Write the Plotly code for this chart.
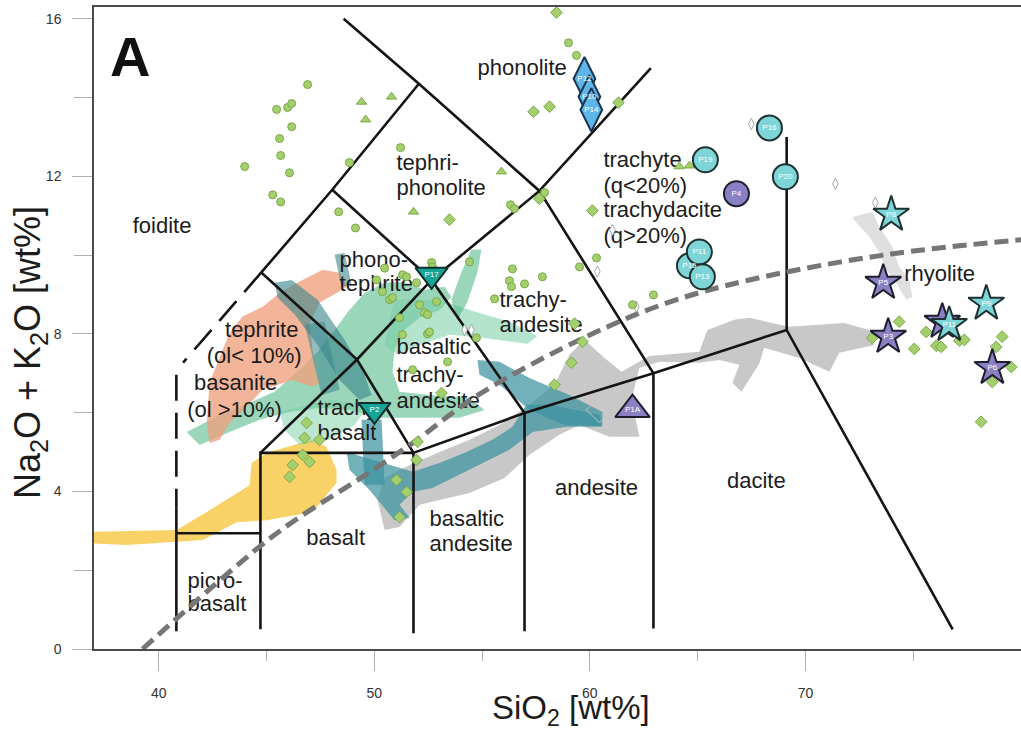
import plotly.graph_objects as go

# ---------------- axes ----------------
x_ticks = [40, 50, 60, 70]
x_minor = [45, 55, 65, 75]
y_ticks = [0, 4, 8, 12, 16]
y_minor = [2, 6, 10, 14]

# ---------------- TAS field boundaries (SiO2 wt%, Na2O+K2O wt%) ----------------
picro_x, picro_y = [40.82, 40.82], [0.45, 3.6]
picro_top_x, picro_top_y = [40.82, 44.72], [2.94, 2.94]
basalt_x, basalt_y = [44.72, 44.72, 51.82], [0.5, 4.98, 4.98]
subalk_x = [51.82, 51.82, 56.97, 62.95, 69.13, 76.83]
subalk_y = [0.4, 4.98, 5.99, 7.0, 8.1, 0.5]
andesite_x, andesite_y = [56.97, 56.97], [0.45, 5.99]
phonolite_x = [62.95, 62.95, 57.66, 52.07, 48.58]
phonolite_y = [0.52, 7.0, 11.63, 14.35, 16.0]
rhyolite_x, rhyolite_y = [69.13, 69.13], [8.1, 13.0]
diag_x = [44.72, 49.2, 52.66, 57.66, 62.83]
diag_y = [4.98, 7.35, 9.37, 11.63, 14.75]
tephrite_x, tephrite_y = [44.76, 49.2, 51.82], [9.56, 7.35, 4.98]
phonotep_x, phonotep_y = [48.05, 52.66, 56.97], [11.66, 9.37, 5.99]
foidite_x, foidite_y = [44.76, 48.05, 52.07], [9.56, 11.66, 14.35]
foid_dash1_x, foid_dash1_y = [44.76, 41.13], [9.56, 7.27]
foid_dash2_x, foid_dash2_y = [40.82, 40.82], [6.96, 3.6]

# alkaline / subalkaline divide
ib_x = [39.25, 44.68, 46.54, 49.46, 51.7, 54.88, 59.83, 63.54, 67.4, 73.73, 80.2]
ib_y = [0.0, 2.6, 3.35, 4.37, 5.2, 6.47, 7.93, 8.78, 9.37, 10.01, 10.4]

# ---------------- compositional fields of reference suites ----------------
yellow_x = [36.5, 40.83, 42.23, 44.22, 44.31, 45.01, 47.14, 47.79, 48.25, 48.25,
            47.14, 45.01, 43.62, 42.04, 40.83, 38.52, 36.5]
yellow_y = [2.97, 3.02, 3.48, 4.16, 4.72, 4.98, 5.31, 5.13, 4.55, 4.22,
            3.48, 3.27, 3.22, 2.77, 2.72, 2.64, 2.69]

salmon_x = [46.40, 47.60, 48.39, 48.72, 48.25, 47.46, 47.00, 47.14, 47.33, 47.46,
            47.14, 46.21, 44.82, 44.08, 43.29, 42.83, 42.36, 42.23, 42.36, 43.29,
            43.89, 44.82, 45.61]
salmon_y = [9.29, 9.63, 9.55, 9.20, 9.04, 8.79, 8.28, 7.59, 7.01, 6.75,
            6.66, 6.83, 6.58, 6.15, 5.74, 5.31, 5.23, 5.74, 6.76, 8.03,
            8.44, 8.69, 9.04]

green_x = [41.30, 42.60, 43.99, 45.38, 46.54, 47.37, 48.16, 48.85, 49.55, 50.48,
           51.40, 52.33, 53.26, 53.58, 53.03, 52.10, 51.40, 50.94, 50.85, 51.17,
           52.56, 54.42, 55.11, 53.95, 52.10, 50.25, 48.85, 47.46, 46.07, 44.68,
           43.29, 41.90]
green_y = [5.51, 5.87, 6.20, 6.53, 7.09, 7.55, 8.10, 8.61, 9.04, 9.30,
           9.32, 9.12, 9.20, 8.94, 8.61, 8.41, 8.10, 7.60, 7.04, 6.53,
           6.45, 6.38, 6.07, 5.87, 5.87, 5.87, 6.07, 6.12, 6.02, 5.82,
           5.51, 5.18]

mint_x = [50.94, 53.03, 54.42, 56.27, 57.57, 57.11, 55.02, 53.49, 52.10, 51.08, 50.48, 50.71]
mint_y = [8.87, 8.87, 8.61, 8.31, 7.95, 7.75, 7.90, 7.98, 7.72, 7.47, 7.72, 8.36]

stripe_x = [53.58, 54.05, 54.51, 54.97, 54.79, 54.33, 53.86]
stripe_y = [8.87, 9.58, 10.14, 10.14, 9.58, 8.82, 8.36]

mint2_x = [45.61, 47.93, 49.78, 49.09, 47.93, 46.54, 45.84]
mint2_y = [6.02, 6.32, 6.20, 5.69, 5.31, 5.18, 5.56]

teal0_x = [48.16, 48.62, 48.95, 48.48]
teal0_y = [10.01, 10.06, 9.25, 9.20]
teal1_x = [45.38, 46.17, 47.37, 48.62, 49.55, 49.87, 49.32, 48.39, 47.37, 46.31, 45.52]
teal1_y = [9.30, 9.37, 8.87, 7.85, 6.96, 6.45, 6.32, 6.83, 7.72, 8.49, 8.92]
teal5_x = [46.77, 47.70, 48.39, 47.56]
teal5_y = [8.23, 8.31, 6.58, 6.45]
teal2_x = [48.72, 50.25, 51.78, 53.03, 54.28, 55.48, 56.41, 57.06, 58.13, 60.45,
           60.54, 58.92, 57.34, 56.27, 55.02, 53.95, 52.70, 51.78, 51.17, 51.64,
           50.94, 49.78, 48.85]
teal2_y = [5.00, 4.75, 4.50, 4.72, 5.00, 5.31, 5.64, 6.20, 6.20, 5.94,
           5.64, 5.64, 5.51, 5.06, 4.72, 4.42, 4.09, 3.99, 3.66, 3.33,
           3.27, 4.04, 4.55]
teal2b_x = [49.41, 50.34, 50.48, 49.55]
teal2b_y = [5.82, 5.82, 4.17, 4.17]
teal3_x = [54.79, 55.81, 57.20, 59.05, 60.58, 60.58, 58.82, 57.20, 55.81, 54.88]
teal3_y = [7.34, 7.29, 6.88, 6.45, 6.02, 5.66, 5.69, 6.07, 6.71, 6.96]

gray_x = [50.48, 51.64, 53.03, 54.42, 55.81, 57.20, 58.36, 59.05, 59.75, 60.68,
          61.47, 62.76, 65.08, 65.45, 66.70, 67.40, 69.25, 71.80, 72.96, 73.19,
          71.57, 71.11, 69.72, 68.09, 67.86, 67.03, 66.61, 66.94, 66.01, 65.08,
          63.23, 62.30, 61.93, 62.30, 60.91, 59.52, 58.59, 57.20, 56.04, 54.42,
          53.03, 52.10, 51.17, 50.48, 50.15]
gray_y = [4.34, 4.67, 5.00, 5.31, 5.69, 6.20, 6.71, 7.47, 7.85, 7.39,
          7.04, 7.44, 7.55, 8.10, 8.36, 8.41, 8.18, 8.28, 8.10, 7.72,
          7.52, 7.04, 7.39, 7.65, 7.24, 6.53, 6.76, 7.22, 7.34, 7.27,
          7.29, 7.14, 6.32, 5.39, 5.39, 5.69, 5.44, 4.93, 4.34, 3.96,
          3.78, 3.66, 3.10, 3.02, 3.78]

rhy_field_x = [72.17, 73.10, 73.43, 74.03, 74.35, 74.82, 74.96, 74.68, 74.21, 73.75, 73.43, 72.96, 72.36]
rhy_field_y = [10.97, 11.10, 10.72, 10.21, 9.70, 9.37, 8.94, 8.87, 9.30, 9.63, 10.06, 10.47, 10.82]

# ---------------- literature whole-rock data ----------------
lit_circ_x = [46.91, 45.47, 45.98, 46.17, 46.17, 45.61, 45.66, 46.07, 43.99, 45.29,
              45.66, 48.35, 48.85, 59.01, 59.38, 51.22, 49.13, 56.32, 56.50, 57.90,
              62.95, 52.66, 54.42, 56.41, 57.80, 56.27, 56.37, 56.97, 55.58, 59.52,
              60.31, 61.98, 52.47, 51.31, 53.40, 54.74, 51.31, 51.50, 50.71, 50.38,
              50.85, 52.10, 52.33, 52.47, 52.89, 52.70, 51.96, 51.17, 52.56, 51.78,
              50.11, 50.48]
lit_circ_y = [14.33, 13.70, 13.75, 13.85, 13.26, 12.96, 12.53, 12.09, 12.25, 11.53,
              11.35, 11.10, 12.35, 15.39, 15.07, 12.73, 10.69, 11.28, 11.18, 11.59,
              8.99, 9.81, 9.83, 9.65, 9.45, 9.35, 9.20, 9.27, 8.89, 9.70,
              9.93, 8.74, 8.00, 7.98, 7.29, 7.90, 9.50, 9.45, 8.87, 9.07,
              8.92, 8.74, 8.54, 8.49, 8.82, 9.70, 9.30, 8.41, 8.05, 7.09,
              9.37, 9.67]

lit_dia_x = [58.45, 57.39, 58.13, 61.33, 57.66, 53.49, 60.12, 59.29, 59.66, 59.15,
             58.36, 52.01, 51.96, 53.12, 46.86, 46.77, 47.46, 46.68, 47.00, 51.03,
             51.50, 51.17, 46.21, 46.07, 74.35, 73.10, 75.60, 75.05, 76.07, 76.30,
             77.14, 77.37, 79.13, 78.85, 79.55, 78.67, 78.15]
lit_dia_y = [16.16, 13.64, 13.77, 13.87, 11.43, 10.90, 11.13, 8.26, 7.80, 7.27,
             6.71, 5.26, 4.80, 6.50, 5.74, 5.36, 5.31, 4.93, 4.75, 4.29,
             3.99, 3.35, 4.67, 4.37, 8.31, 7.90, 8.05, 7.62, 7.70, 7.67,
             7.83, 7.85, 7.93, 7.67, 7.16, 6.78, 5.77]

lit_tri_x = [49.41, 50.80, 49.60, 55.90, 51.82, 64.15, 64.62]
lit_tri_y = [13.89, 14.02, 13.44, 12.12, 11.10, 12.25, 12.27]

lit_gray_x = [67.49, 71.39, 73.24, 60.35, 62.16, 54.19, 54.51, 61.05]
lit_gray_y = [13.33, 11.81, 11.33, 9.58, 8.69, 8.10, 8.10, 10.64]
lit_big_x, lit_big_y = [60.45], [6.07]

# ---------------- studied samples ----------------
dia_lab = ["P12", "P10", "P14"]
dia_x = [59.75, 59.98, 60.07]
dia_y = [14.48, 14.02, 13.69]

cyan_circ_lab = ["P16", "P19", "P20", "P15", "P11", "P13"]
cyan_circ_x = [68.33, 65.36, 69.07, 64.62, 65.08, 65.22]
cyan_circ_y = [13.23, 12.42, 11.99, 9.73, 10.08, 9.45]

purp_circ_lab = ["P4"]
purp_circ_x, purp_circ_y = [66.80], [11.56]

tri_down_lab = ["P17", "P2"]
tri_down_x = [52.66, 50.01]
tri_down_y = [9.50, 6.07]

tri_up_lab = ["P1A"]
tri_up_x, tri_up_y = [61.98], [6.08]

purp_star_lab = ["P5", "P3", "P7", "P6"]
purp_star_x = [73.61, 73.84, 76.35, 78.67]
purp_star_y = [9.30, 7.93, 8.31, 7.14]

cyan_star_lab = ["P8", "P9", "P11"]
cyan_star_x = [73.98, 78.39, 76.67]
cyan_star_y = [11.03, 8.77, 8.23]

# ---------------- field names ----------------
lbl_left = ["tephri-", "phonolite", "phonolite", "trachyte", "(q<20%)", "trachydacite",
            "(q>20%)", "phono-", "tephrite", "trachy-", "andesite", "basaltic",
            "trachy-", "andesite", "trachy-", "basalt", "picro-", "basalt",
            "basaltic", "andesite", "rhyolite"]
lbl_left_x = [51.03, 51.03, 54.79, 60.63, 60.63, 60.63, 60.63, 48.39, 48.39, 55.81,
              55.81, 51.03, 51.03, 51.03, 47.37, 47.37, 41.34, 41.34, 52.56, 52.56, 74.58]
lbl_left_y = [12.30, 11.66, 14.71, 12.37, 11.71, 11.10, 10.44, 9.83, 9.22, 8.82,
              8.18, 7.62, 6.91, 6.27, 6.07, 5.44, 1.70, 1.11, 3.27, 2.64, 9.48]
lbl_mid = ["foidite", "tephrite", "(ol< 10%)", "basanite", "(ol >10%)", "basalt",
           "andesite", "dacite"]
lbl_mid_x = [40.16, 44.78, 44.43, 43.57, 43.52, 48.21, 60.31, 67.72]
lbl_mid_y = [10.70, 8.05, 7.39, 6.71, 6.02, 2.77, 4.06, 4.24]

FONT = "Liberation Sans, Arial, Helvetica, sans-serif"
INK = "#1c1c1c"

fig = go.Figure()


def field(xs, ys, color):
    fig.add_trace(go.Scatter(x=xs + xs[:1], y=ys + ys[:1], mode="lines", fill="toself",
                             fillcolor=color, line=dict(width=0), hoverinfo="skip",
                             showlegend=False))


field(gray_x, gray_y, "rgba(190,190,190,0.85)")
field(rhy_field_x, rhy_field_y, "rgba(215,215,215,0.8)")
field(yellow_x, yellow_y, "rgba(246,200,70,0.82)")
field(green_x, green_y, "rgba(70,180,130,0.55)")
field(mint_x, mint_y, "rgba(120,205,165,0.55)")
field(mint2_x, mint2_y, "rgba(120,205,165,0.5)")
field(stripe_x, stripe_y, "rgba(70,180,130,0.55)")
field(salmon_x, salmon_y, "rgba(240,160,125,0.78)")
field(teal2_x, teal2_y, "rgba(60,145,160,0.72)")
field(teal3_x, teal3_y, "rgba(60,145,160,0.72)")
field(teal2b_x, teal2b_y, "rgba(60,145,160,0.72)")
field(teal1_x, teal1_y, "rgba(60,135,140,0.62)")
field(teal5_x, teal5_y, "rgba(60,135,140,0.55)")
field(teal0_x, teal0_y, "rgba(60,135,140,0.6)")

# field boundaries
solid = dict(color="#141414", width=2.6)
for xs, ys in [(picro_x, picro_y), (picro_top_x, picro_top_y), (basalt_x, basalt_y),
               (subalk_x, subalk_y), (andesite_x, andesite_y), (phonolite_x, phonolite_y),
               (rhyolite_x, rhyolite_y), (diag_x, diag_y), (tephrite_x, tephrite_y),
               (phonotep_x, phonotep_y), (foidite_x, foidite_y)]:
    fig.add_trace(go.Scatter(x=xs, y=ys, mode="lines", line=solid, hoverinfo="skip",
                             showlegend=False))
for xs, ys in [(foid_dash1_x, foid_dash1_y), (foid_dash2_x, foid_dash2_y)]:
    fig.add_trace(go.Scatter(x=xs, y=ys, mode="lines",
                             line=dict(color="#141414", width=2.6, dash="26px,12px"),
                             hoverinfo="skip", showlegend=False))

# field names
fig.add_trace(go.Scatter(x=lbl_left_x, y=lbl_left_y, mode="text", text=lbl_left,
                         textposition="middle right",
                         textfont=dict(family=FONT, size=22, color=INK),
                         hoverinfo="skip", showlegend=False))
fig.add_trace(go.Scatter(x=lbl_mid_x, y=lbl_mid_y, mode="text", text=lbl_mid,
                         textposition="middle center",
                         textfont=dict(family=FONT, size=22, color=INK),
                         hoverinfo="skip", showlegend=False))

# alkaline / subalkaline divide
fig.add_trace(go.Scatter(x=ib_x, y=ib_y, mode="lines", line_shape="spline",
                         line=dict(color="#767676", width=5, dash="14px,7px"),
                         hoverinfo="skip", showlegend=False))

# literature data
lit_line = dict(color="#7aa848", width=1)
fig.add_trace(go.Scatter(x=lit_gray_x, y=lit_gray_y, mode="markers",
                         marker=dict(symbol="diamond-tall", size=8, color="white",
                                     line=dict(color="#a8a8a8", width=1)),
                         hoverinfo="skip", showlegend=False))
fig.add_trace(go.Scatter(x=lit_big_x, y=lit_big_y, mode="markers",
                         marker=dict(symbol="diamond", size=20, color="rgba(0,0,0,0)",
                                     line=dict(color="#c4c4c4", width=1)),
                         hoverinfo="skip", showlegend=False))
fig.add_trace(go.Scatter(x=lit_circ_x, y=lit_circ_y, mode="markers",
                         marker=dict(symbol="circle", size=8, color="#a3cf6c", line=lit_line),
                         hoverinfo="skip", showlegend=False))
fig.add_trace(go.Scatter(x=lit_dia_x, y=lit_dia_y, mode="markers",
                         marker=dict(symbol="diamond", size=9, color="#a3cf6c", line=lit_line),
                         hoverinfo="skip", showlegend=False))
fig.add_trace(go.Scatter(x=lit_tri_x, y=lit_tri_y, mode="markers",
                         marker=dict(symbol="triangle-up", size=9, color="#a3cf6c", line=lit_line),
                         hoverinfo="skip", showlegend=False))

# studied samples
lab_font = dict(family=FONT, size=8, color="white")


def samples(xs, ys, labels, symbol, size, fill, edge):
    fig.add_trace(go.Scatter(x=xs, y=ys, mode="markers+text", text=labels,
                             textposition="middle center", textfont=lab_font,
                             marker=dict(symbol=symbol, size=size, color=fill,
                                         line=dict(color=edge, width=2)),
                             hoverinfo="skip", showlegend=False))


samples(dia_x, dia_y, dia_lab, "diamond-tall", 31, "#5cb6ea", "#1b3550")
samples(cyan_circ_x, cyan_circ_y, cyan_circ_lab, "circle", 25, "#7dd5d7", "#1f3031")
samples(purp_circ_x, purp_circ_y, purp_circ_lab, "circle", 25, "#8a80c4", "#1e1e2e")
samples(tri_down_x, tri_down_y, tri_down_lab, "triangle-down", 28, "#14a596", "#0e2f2c")
samples(tri_up_x, tri_up_y, tri_up_lab, "triangle-up", 30, "#8a80c4", "#1e1e2e")
samples(purp_star_x, purp_star_y, purp_star_lab, "star", 27, "#8a80c4", "#1e1e2e")
samples(cyan_star_x, cyan_star_y, cyan_star_lab, "star", 27, "#7dd5d7", "#1f3031")

axis_common = dict(showgrid=False, zeroline=False, showline=True, linecolor="#4a4a4a",
                   linewidth=1.5, ticks="outside", tickcolor="#b0b0b0", tickwidth=1,
                   tickfont=dict(family=FONT, size=14, color="#333"))

fig.update_layout(
    width=1021, height=734,
    margin=dict(l=94, r=0, t=7, b=85),
    paper_bgcolor="white", plot_bgcolor="white",
    xaxis=dict(range=[37, 80], tickvals=x_ticks, ticklen=20, mirror=True,
               ticklabelstandoff=10,
               minor=dict(tickvals=x_minor, ticklen=10, tickcolor="#b0b0b0", ticks="outside"),
               **axis_common),
    yaxis=dict(range=[0, 16.3], tickvals=y_ticks, ticklen=20, ticklabelstandoff=8,
               minor=dict(tickvals=y_minor, ticklen=18, tickcolor="#b0b0b0", ticks="outside"),
               **axis_common),
    annotations=[
        dict(text="<b>A</b>", x=38.66, y=15.04, xref="x", yref="y", showarrow=False,
             font=dict(family=FONT, size=56, color="#111")),
        dict(text="SiO<sub>2</sub> [wt%]", x=0.5146, y=-0.095, xref="paper", yref="paper",
             showarrow=False, yanchor="middle",
             font=dict(family=FONT, size=33, color=INK)),
        dict(text="Na<sub>2</sub>O + K<sub>2</sub>O [wt%]", x=-0.069, y=0.461, xref="paper",
             yref="paper", showarrow=False, textangle=-90, xanchor="center",
             font=dict(family=FONT, size=36, color=INK)),
    ],
)

fig.write_html("out.html")
